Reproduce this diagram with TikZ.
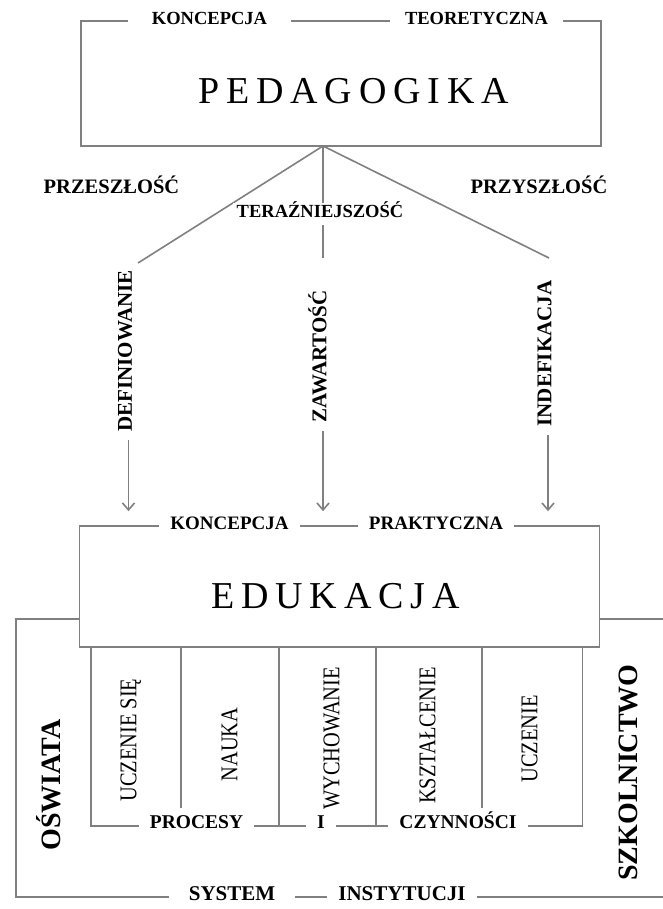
\documentclass[tikz,border=0pt]{standalone}
\usepackage{fontspec}
\setmainfont{Liberation Serif}
\usetikzlibrary{arrows.meta,positioning}
\definecolor{linegray}{gray}{0.5}

\begin{document}
\begin{tikzpicture}[x=1pt,y=-1pt,
 gline/.style={draw=linegray,line width=1.6pt},
 garr/.style={gline,-{Straight Barb[length=7pt,width=12pt]}},
 box/.style={gline,fill=white,minimum width=520pt,minimum height=121pt,inner sep=0pt},
 ttl/.style={font=\fontsize{38}{40}\selectfont\addfontfeature{LetterSpace=18},inner sep=0pt},
 lbl/.style={font=\bfseries\fontsize{18.5}{20}\selectfont,fill=white,inner xsep=11pt,inner ysep=3pt,text height=0.66em,text depth=0pt},
 tim/.style={font=\bfseries\fontsize{20.5}{22}\selectfont,inner sep=0pt,text height=0.66em,text depth=0pt},
 vlbl/.style={font=\bfseries\fontsize{21}{22}\selectfont,rotate=90,inner sep=0pt,text height=0.66em,text depth=0pt},
 col/.style={font=\fontsize{24}{26}\selectfont\addfontfeature{FakeStretch=0.85},rotate=90,inner sep=0pt,text height=0.66em,text depth=0pt},
 side/.style={font=\bfseries\fontsize{28}{30}\selectfont,rotate=90,inner sep=0pt,text height=0.66em,text depth=0pt}]
\useasboundingbox (0,0) rectangle (662,909);
% pedagogika
\node[box,minimum height=125pt] (ped) at (341,83.5) {};
\node[ttl] (pedt) at (353.5,91) {PEDAGOGIKA};
\node[lbl,inner xsep=24pt] (kt) at (209.5,21) {KONCEPCJA};
\node[lbl,inner xsep=15pt] (teo) at (476.5,21) {TEORETYCZNA};
% time branches
\coordinate (apex) at (323,146);
\coordinate (pl) at (138,263);
\coordinate (pm) at (323,258);
\coordinate (pr) at (549,258);
\draw[gline] (apex)--(pl);
\draw[gline] (apex)--(pm);
\draw[gline] (apex)--(pr);
\node[tim] (past) at (111.5,190) {PRZESZŁOŚĆ};
\node[tim] (fut) at (539,190) {PRZYSZŁOŚĆ};
\node[lbl,inner ysep=8pt,inner xsep=4pt] (pres) at (320,214) {TERAŹNIEJSZOŚĆ};
\node[vlbl] (def) at (128.5,351) {DEFINIOWANIE};
\node[vlbl] (zaw) at (323,356.5) {ZAWARTOŚĆ};
\node[vlbl] (ind) at (548,353.5) {INDEFIKACJA};
% edukacja
\draw[gline] (80,619)--(16,619)--(16,897)--(670,897);
\draw[gline] (599,619)--(670,619);
\node[box] (edu) at (339.5,586.5) {};
\node[ttl] (edut) at (335.5,596) {EDUKACJA};
\node[lbl,font=\bfseries\fontsize{19}{20}\selectfont] (kp) at (229.5,526) {KONCEPCJA};
\node[lbl,font=\bfseries\fontsize{19}{20}\selectfont] (prak) at (436,526) {PRAKTYCZNA};
\draw[garr,shorten <=8pt,shorten >=14pt] (def.west)--(def.west |- edu.north);
\draw[garr,shorten <=8pt,shorten >=14pt] (zaw.west)--(zaw.west |- edu.north);
\draw[garr,shorten <=8pt,shorten >=14pt] (ind.west)--(ind.west |- edu.north);
% processes
\draw[gline] ([xshift=12pt]edu.south west)--++(0,178) -| ([xshift=-18pt]edu.south east);
\foreach \x/\len in {181/161,279/178,376/178,482/161}
  \draw[gline] (\x,647)--++(0,\len);
\node[col] (c1) at (133,740) {UCZENIE SIĘ};
\node[col] (c2) at (234,744.5) {NAUKA};
\node[col] (c3) at (336,738.5) {WYCHOWANIE};
\node[col] (c4) at (432,735.5) {KSZTAŁCENIE};
\node[col] (c5) at (534,739) {UCZENIE};
\node[lbl,font=\bfseries\fontsize{19.5}{21}\selectfont] (proc) at (196.5,825) {PROCESY};
\node[lbl,font=\bfseries\fontsize{19.5}{21}\selectfont] (and) at (321,825) {I};
\node[lbl,font=\bfseries\fontsize{19.5}{21}\selectfont] (czyn) at (458,825) {CZYNNOŚCI};
% institutions
\node[side] (osw) at (57,785) {OŚWIATA};
\node[side] (szk) at (634,772.5) {SZKOLNICTWO};
\node[lbl,font=\bfseries\fontsize{21}{22}\selectfont,inner xsep=20pt] (sys) at (232,897) {SYSTEM};
\node[lbl,font=\bfseries\fontsize{21}{22}\selectfont] (inst) at (402,897) {INSTYTUCJI};
\end{tikzpicture}
\end{document}
